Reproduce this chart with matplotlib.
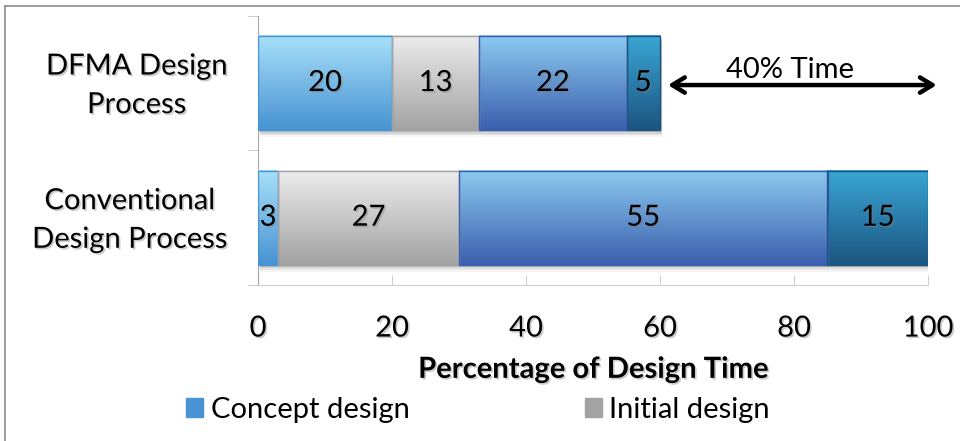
"""
Design time comparison: DFMA vs conventional process (stacked horizontal bars).
"""
import matplotlib
matplotlib.use("Agg")
import matplotlib.pyplot as plt
import matplotlib.patheffects as pe
import matplotlib.transforms as mtransforms
from matplotlib.colors import to_rgb
from matplotlib.lines import Line2D
from matplotlib.patches import Patch
import numpy as np

plt.rcParams["font.family"] = ["Lato", "DejaVu Sans"]

# ---- data ------------------------------------------------------------------
categories = ["Conventional\nDesign Process", "DFMA Design\nProcess"]
phases = ["Concept design", "Initial design", "Detail design", "Redesign"]
conventional = [3, 27, 55, 15]
dfma = [20, 13, 22, 5]
xticks = [0, 20, 40, 60, 80, 100]
xlabel = "Percentage of Design Time"
note = "40% Time"

# gradient colours (top, bottom) per phase
grad = [("#a8e0f9", "#4893d3"),
        ("#ececec", "#a3a3a3"),
        ("#8ccaf0", "#3b5fae"),
        ("#3aa6d4", "#1c5581")]

series = np.array([conventional, dfma])
H = 0.7
FS = 21
shadow = [pe.SimplePatchShadow(offset=(1.2, -1.2), shadow_rgbFace="#7f7f7f", alpha=0.4),
          pe.Normal()]

fig = plt.figure(figsize=(9.6, 4.41), dpi=100)
ax = fig.add_axes([258/960, 1-285/441, 670/960, 269.3/441])

def gradient_bar(x0, w, yc, c_top, c_bot):
    t = np.linspace(0, 1, 64)[:, None]
    top, bot = np.array(to_rgb(c_top)), np.array(to_rgb(c_bot))
    img = top[None, None, :] * (1 - t[..., None]) + bot[None, None, :] * t[..., None]
    img = np.repeat(img, 2, axis=1)
    ax.imshow(img, extent=(x0, x0 + w, yc - H/2, yc + H/2), aspect="auto",
              origin="upper", zorder=3, interpolation="bilinear")

for yi in range(len(categories)):
    row = series[yi]
    total = row.sum()
    # soft shadow under the bar
    for k, a in enumerate([0.10, 0.08, 0.06, 0.04]):
        ax.add_patch(plt.Rectangle((0.3, yi - H/2 - 0.015 - k*0.012), total, H,
                                   color="black", alpha=a, lw=0, zorder=1))
    left = 0
    for j, v in enumerate(row):
        gradient_bar(left, v, yi, *grad[j])
        ax.barh(yi, v, left=left, height=H, facecolor="none",
                edgecolor=to_rgb(grad[j][1]), lw=1.0, zorder=4)
        ax.text(left + v/2, yi, str(v), ha="center", va="center",
                fontsize=FS, color="black", zorder=5, path_effects=shadow)
        left += v

ax.set_xlim(0, 100)
ax.set_ylim(-0.5, 1.5)

# axes styling
for s in ("top", "right"):
    ax.spines[s].set_visible(False)
ax.spines["left"].set_color("#a6a6a6")
ax.spines["bottom"].set_color("#d0d0d0")
ax.set_xticks(xticks)
ax.set_xticklabels([str(v) for v in xticks])
ax.tick_params(axis="x", direction="in", length=7, color="#d0d0d0",
               labelsize=FS, pad=22)
for t in ax.get_xticklabels():
    t.set_path_effects(shadow)
ax.set_yticks([0, 1])
ax.set_yticklabels(categories)
ax.set_yticks([-0.5, 0.5, 1.5], minor=True)
ax.tick_params(axis="y", which="major", length=0, labelsize=FS, pad=22)
ax.tick_params(axis="y", which="minor", direction="out", length=7, color="#bfbfbf")
lift = mtransforms.ScaledTranslation(0, 6/100, fig.dpi_scale_trans)
for t in ax.get_yticklabels():
    t.set_multialignment("center")
    t.set_linespacing(1.6)
    t.set_path_effects(shadow)
    t.set_transform(t.get_transform() + lift)
ax.set_xlabel(xlabel, fontsize=FS, fontweight="bold", labelpad=11,
              path_effects=shadow)

# 40% time arrow
ax.annotate("", xy=(101.3, 0.985), xytext=(61.2, 0.985),
            arrowprops=dict(arrowstyle="<->,head_length=0.9,head_width=0.55",
                            lw=3.2, color="black", shrinkA=0, shrinkB=0),
            annotation_clip=False, zorder=6)
ax.text(79.4, 1.10, note, ha="center", va="center", fontsize=FS,
        clip_on=False, zorder=6)

# legend (only first two phases visible)
handles = [Patch(facecolor=grad[j][1], edgecolor=grad[j][1]) for j in range(2)]
fig.legend(handles, phases[:2], loc="center", bbox_to_anchor=(478/960, 1-410/441),
           ncol=2, frameon=False, handlelength=0.6, handleheight=0.6,
           handletextpad=0.25, columnspacing=6.0, prop={"size": FS})

# outer chart border (top and left visible)
fig.add_artist(Line2D([5/960, 1], [1-6/441, 1-6/441], color="#8c8c8c", lw=1.2))
fig.add_artist(Line2D([5/960, 5/960], [0, 1-6/441], color="#8c8c8c", lw=1.2))

fig.savefig("out.png", dpi=100)
